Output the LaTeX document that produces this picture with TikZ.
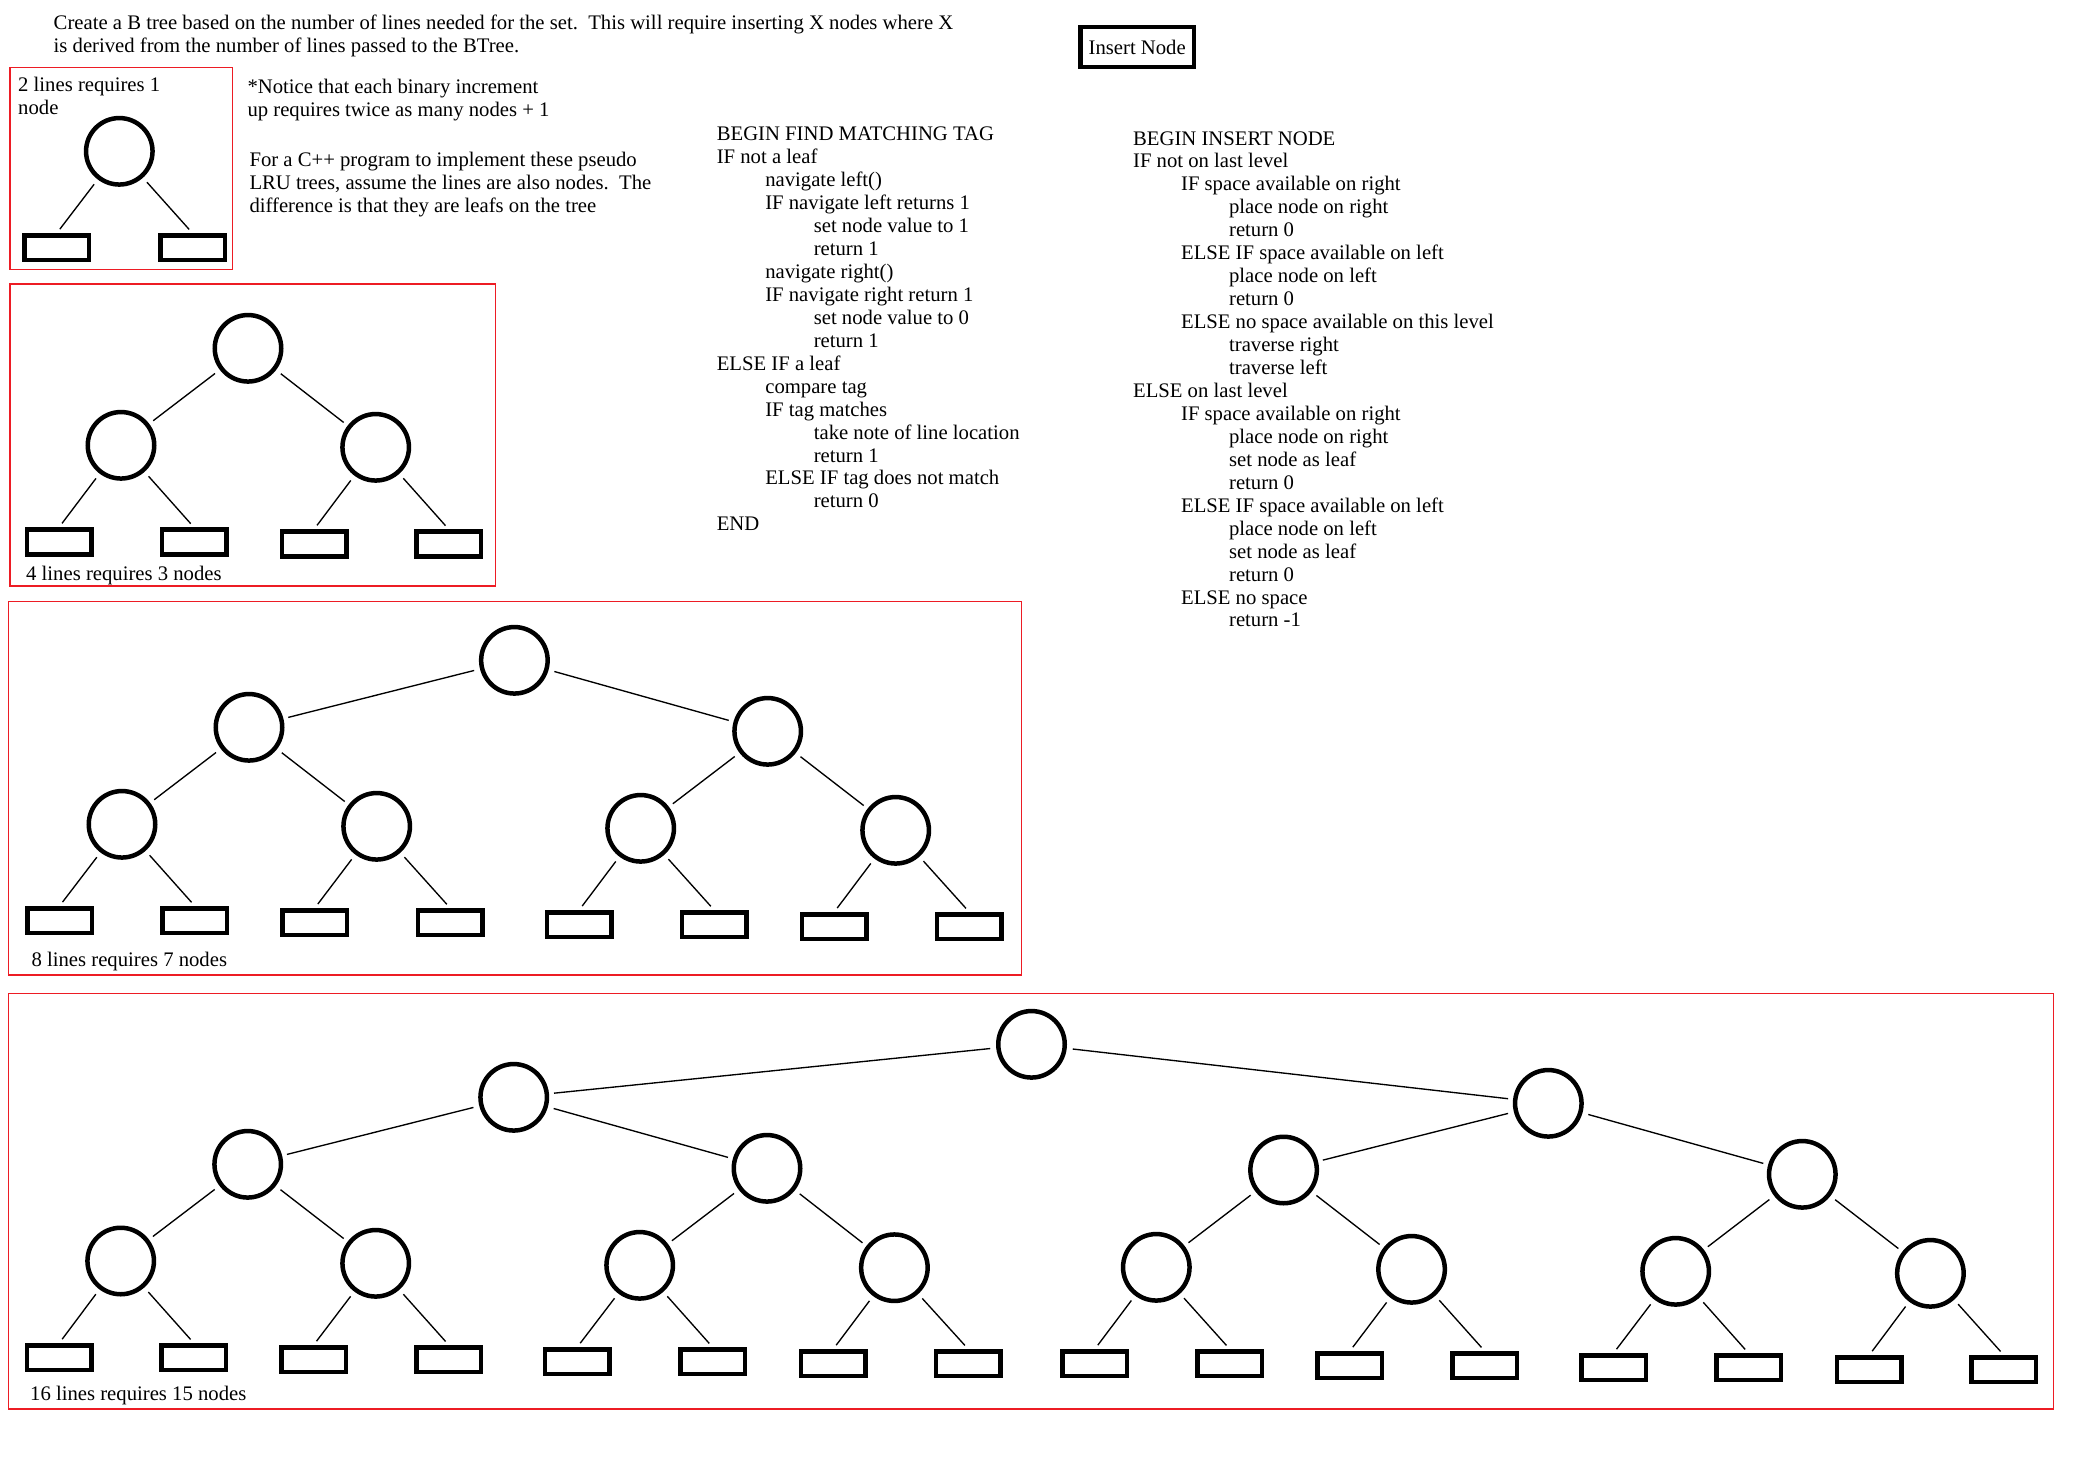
\documentclass[tikz,border=0pt]{standalone}
\usepackage{fontspec}
\setmainfont{Liberation Serif}
\definecolor{paintred}{RGB}{237,28,36}

\begin{document}
\begin{tikzpicture}[x=1pt,y=-1pt,
  every node/.style={font=\fontsize{20.7}{22.95}\selectfont},
  txt/.style={anchor=base west,inner sep=0pt},
  frame/.style={draw=paintred,line width=1.35pt},
  vertex/.style={circle,draw,line width=4.5pt,minimum size=66.5pt,inner sep=0pt},
  leaf/.style={rectangle,draw,line width=4.5pt,minimum width=64.5pt,minimum height=24.8pt,inner sep=0pt},
  link/.style={line width=1.35pt,shorten <=6pt,shorten >=5pt}]
  \useasboundingbox (0,0) rectangle (2096,1472);

  \node[txt] (intro1) at (53.5,29.3) {Create a B tree based on the number of lines needed for the set.\ \ This will require inserting X nodes where X};
  \node[txt] (intro2) at (53.5,52.2) {is derived from the number of lines passed to the BTree.};
  \node[draw,line width=4.5pt,minimum width=113.9pt,minimum height=40.4pt,inner sep=0pt] (insert) at (1137.2,47.05) {Insert Node};

  \node[txt] (note1) at (247.3,93.3) {*Notice that each binary increment};
  \node[txt] (note2) at (247.3,116.2) {up requires twice as many nodes + 1};
  \node[txt] (lru1) at (249.3,166.7) {For a C++ program to implement these pseudo};
  \node[txt] (lru2) at (249.3,189.6) {LRU trees, assume the lines are also nodes.\ \ The};
  \node[txt] (lru3) at (249.3,212.6) {difference is that they are leafs on the tree};

  \foreach \lvl/\code [count=\i from 0] in {0/BEGIN FIND MATCHING TAG, 0/IF not a leaf,
      1/navigate left(), 1/IF navigate left returns 1, 2/set node value to 1, 2/return 1,
      1/navigate right(), 1/IF navigate right return 1, 2/set node value to 0, 2/return 1,
      0/ELSE IF a leaf, 1/compare tag, 1/IF tag matches, 2/take note of line location,
      2/return 1, 1/ELSE IF tag does not match, 2/return 0, 0/END}
    \node[txt] (find\i) at (716.6+48.5*\lvl,140.7+22.95*\i) {\code};

  \foreach \lvl/\code [count=\i from 0] in {0/BEGIN INSERT NODE, 0/IF not on last level,
      1/IF space available on right, 2/place node on right, 2/return 0,
      1/ELSE IF space available on left, 2/place node on left, 2/return 0,
      1/ELSE no space available on this level, 2/traverse right, 2/traverse left,
      0/ELSE on last level, 1/IF space available on right, 2/place node on right,
      2/set node as leaf, 2/return 0, 1/ELSE IF space available on left,
      2/place node on left, 2/set node as leaf, 2/return 0, 1/ELSE no space, 2/return -1}
    \node[txt] (ins\i) at (1132.9+48*\lvl,145+22.95*\i) {\code};

  \draw[frame] (10,67.3) rectangle (232.6,269.3);
  \node[txt] (a-lab1) at (18,91.7) {2 lines requires 1};
  \node[txt] (a-lab2) at (18,114.6) {node};
  \node[vertex] (a1) at (119.3,151.3) {};
  \node[leaf] (a2) at (56.8,247.8) {};
  \node[leaf] (a3) at (192.5,247.8) {};
  \draw[link] (a1) -- (a2.north);
  \draw[link] (a1) -- (a3.north);

  \draw[frame] (10,284) rectangle (495.7,586);
  \node[txt] (b-lab) at (26,580) {4 lines requires 3 nodes};
  \foreach \i/\x/\y in {1/248/348.3, 2/121/445.3, 3/375.7/447.3}
    \node[vertex] (b\i) at (\x,\y) {};
  \foreach \i/\x/\y in {4/59/542, 5/194/542, 6/314/544, 7/448.8/544}
    \node[leaf] (b\i) at (\x,\y) {};
  \foreach \i in {2,3} {\pgfmathtruncatemacro\p{\i/2} \draw[link] (b\p) -- (b\i);}
  \foreach \i in {4,...,7} {\pgfmathtruncatemacro\p{\i/2} \draw[link] (b\p) -- (b\i.north);}

  \draw[frame] (8.7,601.3) rectangle (1021.4,975);
  \node[txt] (c-lab) at (31.4,966.7) {8 lines requires 7 nodes};
  \foreach \i/\x/\y in {1/514.4/660.3, 2/249/727.3, 3/767.7/731.3, 4/122/824.3,
      5/376.7/826.3, 6/640.7/828.3, 7/895.7/830.3}
    \node[vertex] (c\i) at (\x,\y) {};
  \foreach \i/\x/\y in {8/59.5/920.7, 9/194.9/920.7, 10/314.8/922.7, 11/450.2/922.7,
      12/579.2/924.7, 13/714.2/924.7, 14/834.2/926.7, 15/969.3/926.7}
    \node[leaf] (c\i) at (\x,\y) {};
  \foreach \i in {2,...,7} {\pgfmathtruncatemacro\p{\i/2} \draw[link] (c\p) -- (c\i);}
  \foreach \i in {8,...,15} {\pgfmathtruncatemacro\p{\i/2} \draw[link] (c\p) -- (c\i.north);}

  \draw[frame] (8.7,993.3) rectangle (2053.3,1409);
  \node[txt] (d-lab) at (30,1400) {16 lines requires 15 nodes};
  \foreach \i/\x/\y in {1/1031.5/1044.3, 2/513.7/1097.3, 3/1548.3/1103.3,
      4/247.7/1164.3, 5/767/1168.3, 6/1283.6/1170, 7/1802.3/1174.3,
      8/120.7/1261, 9/375.7/1263.3, 10/639.7/1265.3, 11/894.4/1267.7,
      12/1156.3/1267.3, 13/1411.6/1269.3, 14/1675.7/1271.3, 15/1930.4/1273.3}
    \node[vertex] (d\i) at (\x,\y) {};
  \foreach \i/\x/\y in {16/59.2/1357.8, 17/193.9/1357.8, 18/313.5/1359.8, 19/448.9/1359.8,
      20/577.2/1361.8, 21/712.6/1361.8, 22/833.2/1363.8, 23/968.3/1363.8,
      24/1094.8/1363.8, 25/1229.8/1363.8, 26/1349.8/1365.8, 27/1484.8/1365.8,
      28/1613.5/1367.8, 29/1748.5/1367.8, 30/1869.2/1369.8, 31/2003.9/1369.8}
    \node[leaf] (d\i) at (\x,\y) {};
  \foreach \i in {2,...,15} {\pgfmathtruncatemacro\p{\i/2} \draw[link] (d\p) -- (d\i);}
  \foreach \i in {16,...,31} {\pgfmathtruncatemacro\p{\i/2} \draw[link] (d\p) -- (d\i.north);}
\end{tikzpicture}
\end{document}
